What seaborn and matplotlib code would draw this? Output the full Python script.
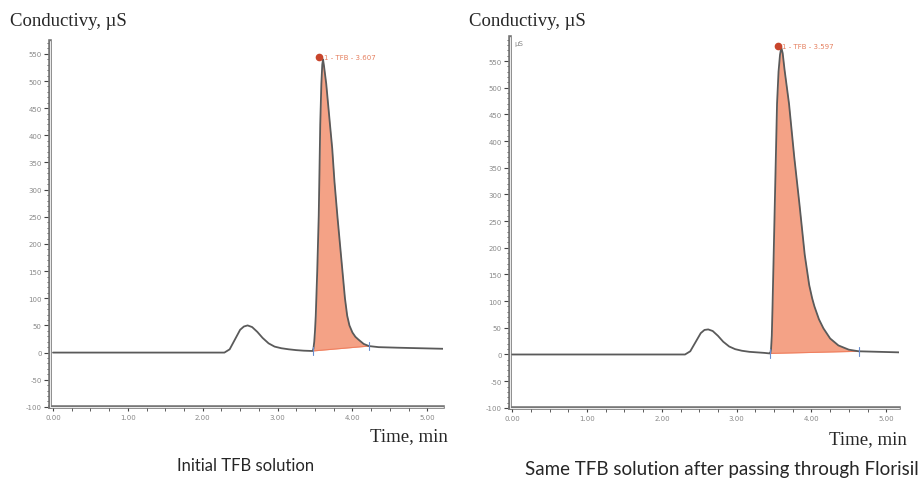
import numpy as np
import pandas as pd
import seaborn as sns
import matplotlib.pyplot as plt

# --- Data ---
# Left: initial TFB solution
time_a = [0.00, 1.00, 2.00, 2.29, 2.36, 2.43, 2.50, 2.55, 2.60, 2.66, 2.73, 2.80,
          2.88, 2.96, 3.05, 3.15, 3.25, 3.35, 3.45, 3.47, 3.48, 3.49, 3.50, 3.51,
          3.53, 3.55, 3.57, 3.585, 3.597, 3.607, 3.62, 3.65, 3.70, 3.73, 3.76,
          3.80, 3.84, 3.87, 3.90, 3.93, 3.96, 4.00, 4.04, 4.08, 4.15, 4.22, 4.35,
          4.60, 4.90, 5.21]
cond_a = [0, 0, 0, 0, 6, 24, 42, 48, 50, 47, 38, 27,
          17, 11, 8, 6, 4.5, 3.5, 3, 3, 8, 20, 40, 67,
          150, 252, 420, 495, 530, 540, 528, 495, 420, 376, 315,
          250, 190, 145, 100, 68, 50, 37, 29, 24, 16, 12, 10,
          9, 8, 7]
base_a = (3.47, 3, 4.22, 12)     # integration baseline start/end
peak_a = (3.607, 540, '1 - TFB - 3.607')

# Right: after passing through Florisil
time_b = [0.00, 1.00, 2.00, 2.31, 2.38, 2.45, 2.52, 2.57, 2.62, 2.68, 2.75, 2.82,
          2.90, 2.98, 3.07, 3.17, 3.27, 3.37, 3.44, 3.45, 3.46, 3.47, 3.48, 3.51,
          3.54, 3.56, 3.58, 3.597, 3.615, 3.64, 3.70, 3.77, 3.84, 3.91, 3.97,
          4.01, 4.04, 4.10, 4.16, 4.25, 4.36, 4.50, 4.63, 4.90, 5.17]
cond_b = [0, 0, 0, 0, 6, 23, 40, 46, 47, 44, 35, 24,
          15, 10, 7, 5, 4, 3, 2, 2, 10, 35, 92, 281,
          470, 530, 562, 575, 565, 534, 470, 370, 281, 187, 130,
          105, 90, 66, 49, 30, 17, 9, 6, 5, 4]
base_b = (3.45, 2, 4.63, 6)
peak_b = (3.597, 575, '1 - TFB - 3.597')

captions = ['Initial TFB solution',
            'Same TFB solution after passing through Florisil']

# --- Style ---
sns.set_style('white')
plt.rcParams['font.family'] = ['DejaVu Sans']
plt.rcParams['axes.unicode_minus'] = False

line_col = '#5a5a5a'
fill_col = '#F4A286'
peak_col = '#C8452C'
label_col = '#E58060'
tick_col = '#777777'

fig = plt.figure(figsize=(9.21, 4.81), dpi=100)
ax_a = fig.add_axes([0.0543, 0.152, 0.4267, 0.761])
ax_b = fig.add_axes([0.5537, 0.150, 0.4224, 0.771])


def draw_panel(ax, t, y, base, peak, xlim, ylim, unit_label=False):
    df = pd.DataFrame({'time': t, 'cond': y})
    t = np.asarray(t)
    y = np.asarray(y, dtype=float)

    # integrated peak area
    t0, y0, t1, y1 = base
    sel = (t >= t0) & (t <= t1)
    bl = np.interp(t[sel], [t0, t1], [y0, y1])
    ax.fill_between(t[sel], bl, y[sel], color=fill_col, lw=0, zorder=1)
    ax.plot([t0, t1], [y0, y1], color='#F08060', lw=0.8, zorder=2)

    sns.lineplot(data=df, x='time', y='cond', ax=ax, color=line_col,
                 lw=1.3, zorder=3)

    # integration markers
    for tm, ym in [(t0, y0), (t1, y1)]:
        ax.plot([tm, tm], [ym - 8, ym + 8], color='#6A8FD0', lw=0.8, zorder=4)

    # apex marker + label
    pt, pv, lab = peak
    ax.plot(pt - 0.05, pv + 4, 'o', ms=4.5, color=peak_col, zorder=5)
    ax.text(pt + 0.01, pv + 4, lab, color=label_col, fontsize=5,
            va='center', ha='left')

    ax.set_xlim(*xlim)
    ax.set_ylim(*ylim)
    ax.set_xlabel('')
    ax.set_ylabel('')

    ax.set_xticks(np.arange(0, 5.01, 1.0))
    ax.set_xticklabels([f'{v:.2f}' for v in np.arange(0, 5.01, 1.0)])
    ax.set_xticks(np.arange(0, 5.2, 0.25), minor=True)
    ax.set_yticks(np.arange(-100, 551, 50))
    ax.set_yticks(np.arange(-100, ylim[1], 10), minor=True)

    ax.tick_params(axis='both', which='major', labelsize=5, labelcolor='#888888',
                   color='#444444', length=4, width=0.8, pad=2)
    ax.tick_params(axis='both', which='minor', color='#444444', length=2, width=0.6)
    ax.tick_params(axis='x', which='both', direction='out', length=3)
    ax.tick_params(left=True, bottom=True, which='both')

    for s in ['top', 'right']:
        ax.spines[s].set_visible(False)
    for s in ['left', 'bottom']:
        ax.spines[s].set_color(tick_col)
        ax.spines[s].set_linewidth(2.6)
    # light core of the double axis line
    ax.axvline(xlim[0], color='#eeeeee', lw=0.7, clip_on=False, zorder=6)
    ax.axhline(ylim[0], color='#eeeeee', lw=0.7, clip_on=False, zorder=6)

    if unit_label:
        ax.text(0.012, 0.993, 'µS', transform=ax.transAxes, fontsize=5,
                color='#888888', va='top', ha='left')


draw_panel(ax_a, time_a, cond_a, base_a, peak_a, (-0.04, 5.21), (-100, 574))
draw_panel(ax_b, time_b, cond_b, base_b, peak_b, (-0.03, 5.17), (-100, 595),
           unit_label=True)

# --- Figure texts ---
serif = ['Liberation Serif', 'DejaVu Serif']
fig.text(10 / 921, 1 - 22 / 481, 'Conductivy, µS', family=serif, fontsize=13.5,
         va='center', ha='left')
fig.text(469 / 921, 1 - 22 / 481, 'Conductivy, µS', family=serif, fontsize=13.5,
         va='center', ha='left')
fig.text(409 / 921, 1 - 437 / 481, 'Time, min', family=serif, fontsize=13.5,
         va='center', ha='center')
fig.text(868 / 921, 1 - 440 / 481, 'Time, min', family=serif, fontsize=13.5,
         va='center', ha='center')

cap_font = ['Lato', 'DejaVu Sans']
fig.text(246 / 921, 1 - 466 / 481, captions[0], family=cap_font, fontsize=12,
         va='center', ha='center')
fig.text(525 / 921, 1 - 470 / 481, captions[1], family=cap_font, fontsize=13.5,
         va='center', ha='left')

fig.savefig('out.png', dpi=100)
